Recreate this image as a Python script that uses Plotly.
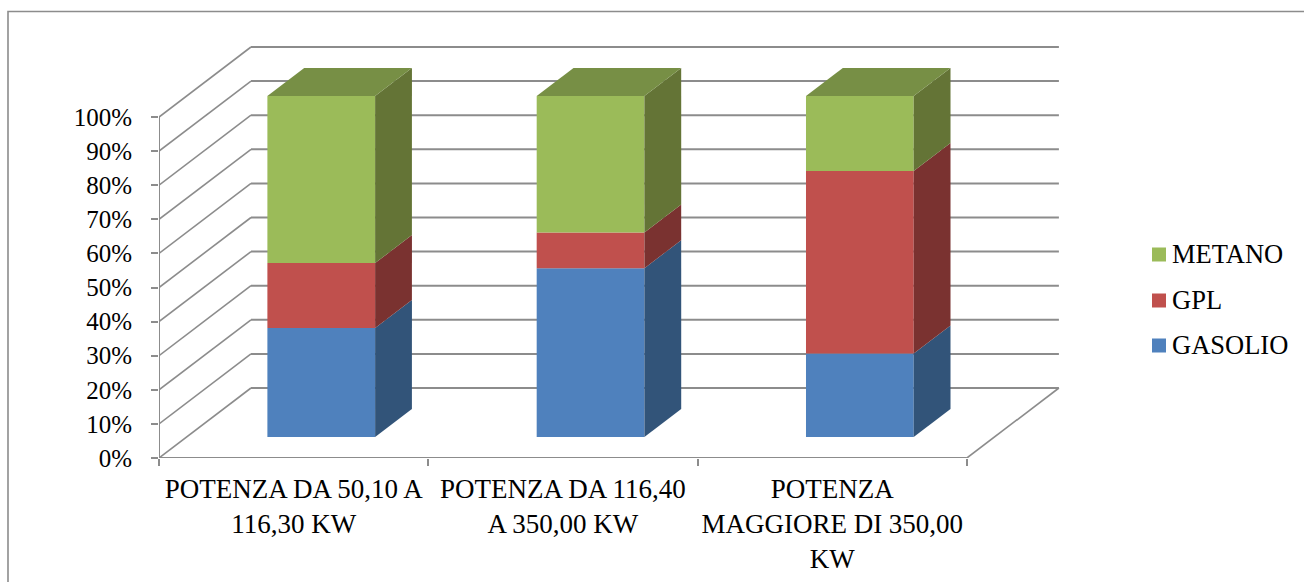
import plotly.graph_objects as go

# Share of each heating fuel per boiler power class, in percent
categories = ["POTENZA DA 50,10 A<br>116,30 KW",
              "POTENZA DA 116,40<br>A 350,00 KW",
              "POTENZA<br>MAGGIORE DI 350,00<br>KW"]
gasolio = [32.0, 49.5, 24.5]
gpl = [19.0, 10.5, 53.5]
metano = [49.0, 40.0, 22.0]
percent_ticks = list(range(0, 101, 10))
series_names = ["GASOLIO", "GPL", "METANO"]
front_colors = ["#4F81BD", "#C0504D", "#9BBB59"]
side_colors = ["#325479", "#7A3230", "#647436"]
lid_color = "#778F45"
key_rows = [345.5, 300.5, 254.5]

WIDTH, HEIGHT = 1304, 582
LEFT, RIGHT, BOTTOM, TOP = 159.0, 1060.0, 458.0, 46.0
CAT_PX = 269.3
PCT_PX = 3.41
GRID = "#8C8C8C"
FONT = "Liberation Serif"

# Oblique offset of the whole chart depth, in axis units
DEPTH_X = 92.0 / CAT_PX
DEPTH_Y = 70.0 / PCT_PX
BAR_NEAR, BAR_FAR = 0.3, 0.7
BAR_START, BAR_WIDTH = 0.3, 0.4


def project(cat, pct, depth):
    """Oblique projection of (category position, percent, depth 0..1) onto the axes."""
    return cat + depth * DEPTH_X, pct + depth * DEPTH_Y


def polygon(corners, color):
    pts = [project(*c) for c in corners]
    return go.Scatter(x=[p[0] for p in pts] + [pts[0][0]],
                      y=[p[1] for p in pts] + [pts[0][1]],
                      mode="lines", fill="toself", fillcolor=color,
                      line=dict(width=0), hoverinfo="skip", showlegend=False,
                      xaxis="x", yaxis="y")


fig = go.Figure()
series = [gasolio, gpl, metano]

# Front faces are ordinary bars shifted to the depth of the bar block
base_so_far = [0.0, 0.0, 0.0]
for name, values, front, side in zip(series_names, series, front_colors, side_colors):
    fig.add_trace(go.Bar(
        x=[project(i + BAR_START + BAR_WIDTH / 2, 0, BAR_NEAR)[0] for i in range(3)],
        y=values,
        base=[project(0, b, BAR_NEAR)[1] for b in base_so_far],
        width=BAR_WIDTH, marker=dict(color=front, line=dict(width=0)),
        name=name, showlegend=False, xaxis="x", yaxis="y"))
    for i, v in enumerate(values):
        x1 = i + BAR_START + BAR_WIDTH
        lo, hi = base_so_far[i], base_so_far[i] + v
        fig.add_trace(polygon([(x1, lo, BAR_NEAR), (x1, hi, BAR_NEAR),
                               (x1, hi, BAR_FAR), (x1, lo, BAR_FAR)], side))
    base_so_far = [b + v for b, v in zip(base_so_far, values)]

# Lid on top of the stack
for i, total in enumerate(base_so_far):
    x0, x1 = i + BAR_START, i + BAR_START + BAR_WIDTH
    fig.add_trace(polygon([(x0, total, BAR_NEAR), (x1, total, BAR_NEAR),
                           (x1, total, BAR_FAR), (x0, total, BAR_FAR)], lid_color))

# Wall and floor lines sit under the bars
shapes = []


def wire(a, b, width=1.6):
    shapes.append(dict(type="line", xref="x", yref="y", layer="below",
                       x0=a[0], y0=a[1], x1=b[0], y1=b[1],
                       line=dict(color=GRID, width=width)))


for t in percent_ticks:
    wire((0, t), project(0, t, 1))
    wire(project(0, t, 1), project(3, t, 1), 2)
wire((0, 0), (3, 0), 2)
wire((0, 0), (0, 100), 2)
wire((3, 0), project(3, 0, 1))

# Chart border runs off the right and bottom of the page
shapes.append(dict(type="path", xref="x2", yref="y2", layer="below",
                   path=f"M 8 {HEIGHT} L 8 11.5 L {WIDTH} 11.5",
                   line=dict(color=GRID, width=1.6)))

# Series key, listed with the top of the stack first
for name, color, row in zip(series_names, front_colors, key_rows):
    fig.add_trace(go.Scatter(x=[1159], y=[row], mode="markers", xaxis="x2", yaxis="y2",
                             marker=dict(symbol="square", size=14, color=color, line=dict(width=0)),
                             hoverinfo="skip", showlegend=False))
    fig.add_trace(go.Scatter(x=[1172], y=[row + 1.5], mode="text", text=[name], textposition="middle right",
                             textfont=dict(family=FONT, size=26.5, color="#000000"),
                             xaxis="x2", yaxis="y2", hoverinfo="skip", showlegend=False))

fig.update_layout(
    width=WIDTH, height=HEIGHT, margin=dict(l=0, r=0, t=0, b=0, pad=0),
    paper_bgcolor="white", plot_bgcolor="rgba(0,0,0,0)",
    barmode="overlay", showlegend=False, shapes=shapes,
    font=dict(family=FONT, color="#000000", size=24),
    xaxis=dict(domain=[LEFT / WIDTH, RIGHT / WIDTH], range=[0, (RIGHT - LEFT) / CAT_PX],
               anchor="y", automargin=False,
               tickmode="array", tickvals=[0.5, 1.5, 2.5], ticktext=categories,
               ticks="", showgrid=False, zeroline=False, showline=False,
               tickfont=dict(family=FONT, size=27), ticklabelstandoff=12,
               minor=dict(tickmode="array", tickvals=[0, 1, 2, 3], ticks="outside",
                          ticklen=7, tickwidth=2, tickcolor=GRID, showgrid=False)),
    yaxis=dict(domain=[(HEIGHT - BOTTOM) / HEIGHT, (HEIGHT - TOP) / HEIGHT],
               range=[0, (BOTTOM - TOP) / PCT_PX], anchor="x", automargin=False,
               tickmode="array", tickvals=percent_ticks,
               ticktext=[f"{t}%" for t in percent_ticks],
               ticks="outside", ticklen=7, tickwidth=2, tickcolor=GRID,
               showgrid=False, zeroline=False, showline=False,
               tickfont=dict(family=FONT, size=25), ticklabelstandoff=14),
    xaxis2=dict(domain=[0, 1], range=[0, WIDTH], visible=False, anchor="y2"),
    yaxis2=dict(domain=[0, 1], range=[HEIGHT, 0], visible=False, anchor="x2"),
)

fig.write_html("out.html")
